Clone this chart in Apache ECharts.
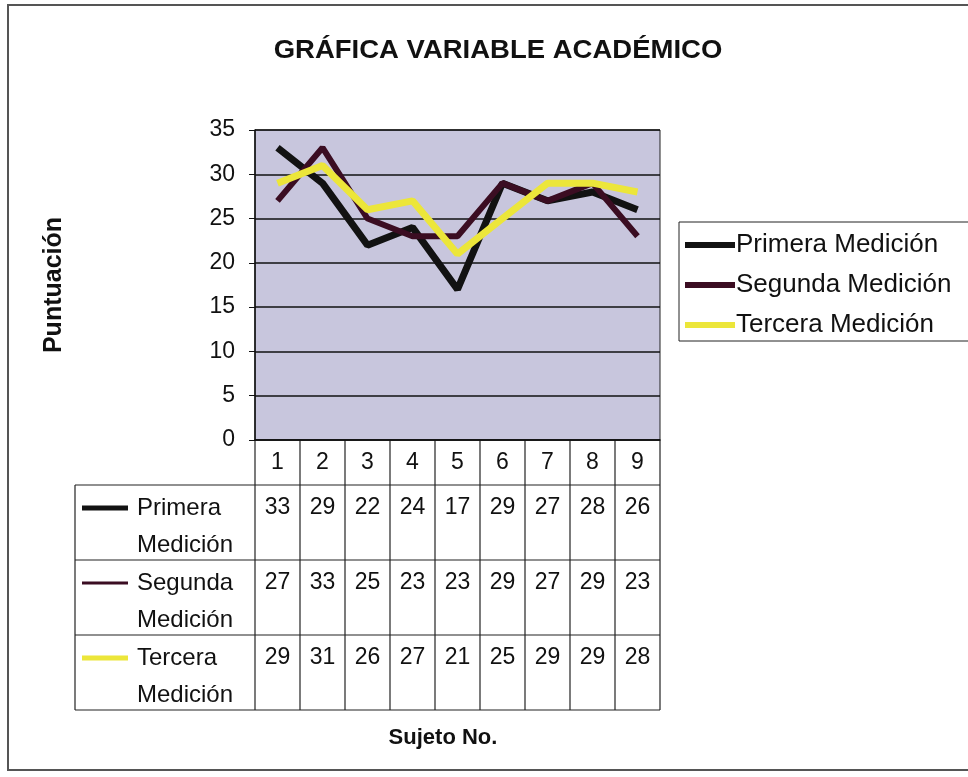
<!DOCTYPE html>
<html>
<head>
<meta charset="utf-8">
<script src="https://cdn.jsdelivr.net/npm/echarts@6/dist/echarts.min.js"></script>
<style>
  html, body { margin: 0; padding: 0; background: #fff; }
  #chart { width: 968px; height: 777px; }
</style>
</head>
<body>
<div id="chart"></div>
<script>
const categories = ["1", "2", "3", "4", "5", "6", "7", "8", "9"];
const seriesNames = ["Primera Medición", "Segunda Medición", "Tercera Medición"];
const rowLabels = [["Primera", "Medición"], ["Segunda", "Medición"], ["Tercera", "Medición"]];
const primera = [33, 29, 22, 24, 17, 29, 27, 28, 26];
const segunda = [27, 33, 25, 23, 23, 29, 27, 29, 23];
const tercera = [29, 31, 26, 27, 21, 25, 29, 29, 28];
const colors = ["#121212", "#3b0d22", "#ece63a"];

const font = "'Liberation Sans', Arial, sans-serif";
const plotLeft = 255, plotRight = 660, plotTop = 130, plotBottom = 440;
const tableLeft = 75, headerBottom = 485, rowH = 75;

const myChart = echarts.init(document.getElementById("chart"));

const option = {
  animation: false,
  backgroundColor: "#fff",
  legend: {
    orient: "vertical",
    left: 679,
    top: 222,
    padding: [10, 40, 3, 6],
    itemGap: 14,
    itemWidth: 50,
    itemHeight: 6,
    icon: "rect",
    borderColor: "#222",
    borderWidth: 1,
    textStyle: { fontFamily: font, fontSize: 26, color: "#111", padding: [0, 0, 0, -4] },
    data: seriesNames
  },
  grid: {
    left: plotLeft,
    right: 968 - plotRight,
    top: plotTop,
    bottom: 777 - plotBottom,
    show: true,
    backgroundColor: "#c8c6dd",
    borderColor: "#222",
    borderWidth: 1
  },
  xAxis: {
    type: "category",
    data: categories,
    boundaryGap: true,
    axisLine: { lineStyle: { color: "#111", width: 1.5 } },
    axisTick: { show: false },
    axisLabel: { fontFamily: font, fontSize: 23, color: "#111", margin: 11 },
    splitLine: { show: false }
  },
  yAxis: {
    type: "value",
    min: 0,
    max: 35,
    interval: 5,
    name: "Puntuación",
    nameLocation: "middle",
    nameGap: 188,
    nameRotate: 90,
    nameTextStyle: { fontFamily: font, fontSize: 25, fontWeight: "bold", color: "#111" },
    axisLine: { show: true, lineStyle: { color: "#111", width: 1.5 } },
    axisTick: { show: true, length: 6, lineStyle: { color: "#111" } },
    axisLabel: { fontFamily: font, fontSize: 23, color: "#111", margin: 20 },
    splitLine: { lineStyle: { color: "#111", width: 1.5 } }
  },
  series: [
    { name: seriesNames[0], type: "line", data: primera, symbol: "none", lineStyle: { width: 7, color: colors[0] }, itemStyle: { color: colors[0] } },
    { name: seriesNames[1], type: "line", data: segunda, symbol: "none", lineStyle: { width: 6, color: colors[1] }, itemStyle: { color: colors[1] } },
    { name: seriesNames[2], type: "line", data: tercera, symbol: "none", lineStyle: { width: 7, color: colors[2] }, itemStyle: { color: colors[2] } }
  ]
};
myChart.setOption(option);

// data table under the axis, built from the arrays and the axis positions
const values = [primera, segunda, tercera];
const centers = categories.map((c, i) => myChart.convertToPixel({ xAxisIndex: 0 }, i));
const colW = centers.length > 1 ? centers[1] - centers[0] : 45;
const lineStyle = { stroke: "#222", lineWidth: 1.2 };
const elements = [];
const tableBottom = headerBottom + rowH * values.length;

// vertical column lines
for (let k = 0; k <= categories.length; k++) {
  const x = centers[0] - colW / 2 + k * colW;
  elements.push({ type: "line", shape: { x1: x, y1: plotBottom, x2: x, y2: tableBottom }, style: lineStyle });
}
// left border of the row labels
elements.push({ type: "line", shape: { x1: tableLeft, y1: headerBottom, x2: tableLeft, y2: tableBottom }, style: lineStyle });
// horizontal row lines
for (let r = 0; r <= values.length; r++) {
  const y = headerBottom + r * rowH;
  elements.push({ type: "line", shape: { x1: tableLeft, y1: y, x2: plotRight, y2: y }, style: lineStyle });
}
values.forEach((row, r) => {
  const top = headerBottom + r * rowH;
  elements.push({ type: "line", shape: { x1: 82, y1: top + 23, x2: 128, y2: top + 23 },
    style: { stroke: colors[r], lineWidth: r === 1 ? 3 : 5 } });
  elements.push({ type: "text", x: 137, y: top + 23,
    style: { text: rowLabels[r][0], font: "24px " + font, fill: "#111", textVerticalAlign: "middle" } });
  elements.push({ type: "text", x: 137, y: top + 60,
    style: { text: rowLabels[r][1], font: "24px " + font, fill: "#111", textVerticalAlign: "middle" } });
  row.forEach((v, i) => {
    elements.push({ type: "text", x: centers[i], y: top + 23,
      style: { text: String(v), font: "23px " + font, fill: "#111", textAlign: "center", textVerticalAlign: "middle" } });
  });
});
// chart title, slightly wide like the scan
elements.push({ type: "text", x: 498, y: 51, scaleX: 1.1,
  style: { text: "GRÁFICA VARIABLE ACADÉMICO", font: "bold 25px " + font, fill: "#111", textAlign: "center", textVerticalAlign: "middle" } });
// x axis title
elements.push({ type: "text", x: 443, y: 738,
  style: { text: "Sujeto No.", font: "bold 22px " + font, fill: "#111", textAlign: "center", textVerticalAlign: "middle" } });
// outer chart border
elements.push({ type: "rect", shape: { x: 8, y: 5, width: 980, height: 765 },
  style: { fill: "none", stroke: "#555", lineWidth: 2 } });

myChart.setOption({ graphic: { elements: elements } });
</script>
</body>
</html>
